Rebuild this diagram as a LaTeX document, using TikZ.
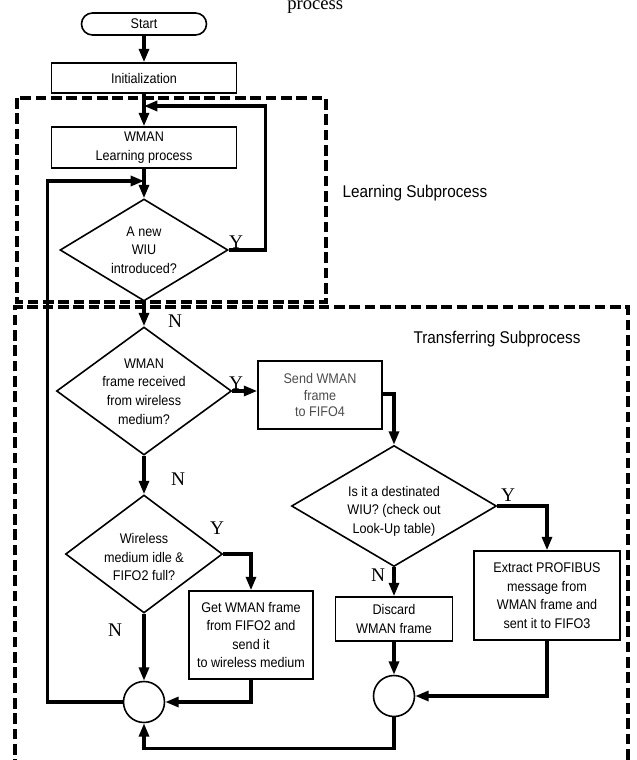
\documentclass[tikz,border=0pt]{standalone}
\usepackage{fontspec}
\setmainfont{Liberation Sans}[FakeStretch=0.9]
\newfontfamily\ynfont{Liberation Serif}
\usetikzlibrary{arrows.meta,shapes.geometric,shapes.misc}
\newcommand\boxfont{\fontsize{10.5}{13.9}\selectfont}
\newcommand\sendfont{\fontsize{10.5}{12.4}\selectfont}
\newcommand\lblfont{\fontsize{12.75}{15}\selectfont}
\begin{document}
\begin{tikzpicture}[x=0.75pt,y=-0.75pt,
  box/.style={draw,line width=1.2pt,inner sep=0pt,align=center,font=\boxfont},
  dia/.style={draw,diamond,line width=1.2pt,inner sep=0pt},
  txt/.style={align=center,font=\boxfont,inner sep=0pt},
  junc/.style={draw,circle,line width=1.2pt,minimum size=30.75pt,inner sep=0pt},
  arr/.style={line width=2.3pt,-{Triangle[length=10pt,width=7.5pt]}},
  dsh/.style={line width=2.4pt,dash pattern=on 8pt off 3.5pt},
  yn/.style={font=\ynfont\fontsize{14.5}{16}\selectfont,inner sep=0pt},
  lbl/.style={font=\lblfont,inner sep=0pt}]
\useasboundingbox (0,0) rectangle (636,760);

% title fragment (cut at the top edge, as in the reference)
\node[font=\ynfont\fontsize{14}{16}\selectfont,anchor=base west,inner sep=0pt] (ttl) at (287,9) {process};

% dashed subprocess frames
\draw[dsh] (17,98) rectangle (326,302);
\draw[dsh] (15,770) -- (15,307) -- (628,307) -- (628,770);
\node[lbl] (lsub) at (415,193) {Learning Subprocess};
\node[lbl] (tsub) at (497,339) {Transferring Subprocess};

% nodes
\node[box,rounded rectangle,minimum width=93.75pt,minimum height=16.5pt] (start) at (144,24) {Start};
\node[box,minimum width=138.75pt,minimum height=22.5pt] (init) at (144,78) {Initialization};
\node[box,minimum width=138.75pt,minimum height=30.75pt] (learn) at (144,147.5) {WMAN\\Learning process};
\node[dia,minimum width=126pt,minimum height=76.5pt] (d1) at (144,250) {};
\node[txt] (d1t) at (144,250) {A new\\WIU\\introduced?};
\node[dia,minimum width=131.25pt,minimum height=96pt] (d2) at (144,391) {};
\node[txt] (d2t) at (144,391.5) {WMAN\\frame received\\from wireless\\medium?};
\node[box,font=\sendfont,text=black!70,minimum width=93pt,minimum height=51pt] (send) at (320,395) {Send WMAN\\frame\\to FIFO4};
\node[dia,minimum width=153.75pt,minimum height=90.75pt] (d3) at (394,506) {};
\node[txt] (d3t) at (394,511) {Is it a destinated\\WIU? (check out\\Look-Up table)};
\node[dia,minimum width=117.75pt,minimum height=88.5pt] (d4) at (144,554) {};
\node[txt] (d4t) at (144,557) {Wireless\\medium idle \&\\FIFO2 full?};
\node[box,minimum width=93pt,minimum height=66pt] (get) at (251,635) {Get WMAN frame\\from FIFO2 and\\send it\\to wireless medium};
\node[box,minimum width=87.75pt,minimum height=33pt] (disc) at (394,619) {Discard\\WMAN frame};
\node[box,minimum width=109.5pt,minimum height=66.75pt] (extr) at (547,595.5) {Extract PROFIBUS\\message from\\WMAN frame and\\sent it to FIFO3};
\node[junc] (c1) at (144,702) {};
\node[junc] (c2) at (394,696) {};

\coordinate (j1) at (144,106);
\coordinate (j2) at (144,181);

% connectors
\draw[arr] (start.south) -- (init.north);
\draw[arr] (init.south) -- (learn.north);
\draw[arr] (d1.east) -- ++(37,0) |- (j1);
\draw[arr] (learn.south) -- (d1.north);
\draw[arr] (c1.west) -- ++(-75.5,0) |- (j2);
\draw[arr] (d1.south) -- (d2.north);
\draw[arr] (d2.east) -- (d2.east -| send.west);
\draw[arr] (send.east |- 0,394) -| (d3.north);
\draw[arr] (d3.east) -| (extr.north);
\draw[arr] (d3.south) -- (disc.north);
\draw[arr] (d2.south) -- (d4.north);
\draw[arr] (d4.east) -| (get.north);
\draw[arr] (d4.south) -- (c1.north);
\draw[arr] (get.south) |- (c1.east);
\draw[arr] (disc.south) -- (c2.north);
\draw[arr] (extr.south) |- (c2.east);
\draw[arr] (c2.south) -- ++(0,31) -| (c1.south);

% Y / N labels
\node[yn] (y1) at (236,242) {Y};
\node[yn] (n1) at (175,321) {N};
\node[yn] (y2) at (236,383) {Y};
\node[yn] (n2) at (178,479) {N};
\node[yn] (y4) at (217,528) {Y};
\node[yn] (n4) at (115,630) {N};
\node[yn] (y3) at (508,495) {Y};
\node[yn] (n3) at (378,575) {N};
\end{tikzpicture}
\end{document}
